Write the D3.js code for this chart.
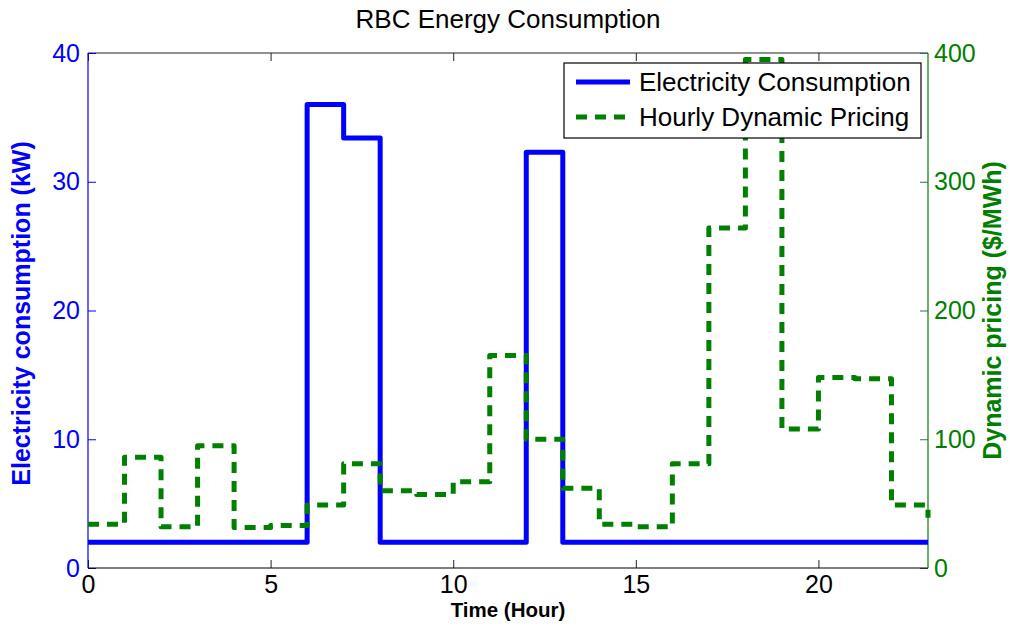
<!DOCTYPE html>
<html>
<head>
<meta charset="utf-8">
<script src="https://cdn.jsdelivr.net/npm/d3@7"></script>
<style>
    body { margin: 0; background: #fff; }
    svg text { font-family: "Liberation Sans", Arial, Helvetica, sans-serif; }
</style>
</head>
<body>
<div id="chart"></div>
<script>
// hourly data, 0..23
const hours = d3.range(0, 24);
const consumption = [2, 2, 2, 2, 2, 2, 36, 33.4, 2, 2, 2, 2, 32.3, 2, 2, 2, 2, 2, 2, 2, 2, 2, 2, 2];
const pricing = [34, 86, 32, 95, 31.5, 33, 49, 81, 60, 57, 67, 165, 100, 62, 34, 32, 81, 264, 395, 108, 148, 147, 49, 39];
const xTicks = [0, 5, 10, 15, 20];
const leftTicks = [0, 10, 20, 30, 40];
const rightTicks = [0, 100, 200, 300, 400];

const width = 1010, height = 627;
const margin = { top: 53, right: 82, bottom: 59, left: 88 };
const innerW = width - margin.left - margin.right;
const innerH = height - margin.top - margin.bottom;

const svg = d3.select("#chart").append("svg")
    .attr("width", width)
    .attr("height", height);

const x = d3.scaleLinear().domain([0, 23]).range([margin.left, margin.left + innerW]);
const yL = d3.scaleLinear().domain([0, 40]).range([margin.top + innerH, margin.top]);
const yR = d3.scaleLinear().domain([0, 400]).range([margin.top + innerH, margin.top]);

const blue = "#0000ff", green = "#008000";

// title
svg.append("text")
    .attr("x", (margin.left + margin.left + innerW) / 2)
    .attr("y", 28)
    .attr("text-anchor", "middle")
    .attr("font-size", 26)
    .text("RBC Energy Consumption");

// top border
svg.append("line")
    .attr("x1", x(0)).attr("x2", x(23))
    .attr("y1", margin.top).attr("y2", margin.top)
    .attr("stroke", "#222").attr("stroke-width", 1);

// axes
function styleAxis(g, color) {
    g.select(".domain").remove();
    g.selectAll(".tick line").attr("stroke", color);
    g.selectAll(".tick text").attr("fill", color).attr("font-size", 25)
        .attr("font-family", '"Liberation Sans", Arial, sans-serif');
}

const xAxis = svg.append("g")
    .attr("transform", `translate(0,${margin.top + innerH})`)
    .call(d3.axisBottom(x).tickValues(xTicks).tickSize(-8).tickPadding(7));
styleAxis(xAxis, "#000");
xAxis.selectAll(".tick line").attr("stroke", "#222");

const xAxisTop = svg.append("g")
    .attr("transform", `translate(0,${margin.top})`)
    .call(d3.axisTop(x).tickValues(xTicks).tickSize(-8).tickFormat(""));
xAxisTop.select(".domain").remove();
xAxisTop.selectAll(".tick line").attr("stroke", "#222");

const leftAxis = svg.append("g")
    .attr("transform", `translate(${margin.left},0)`)
    .call(d3.axisLeft(yL).tickValues(leftTicks).tickSize(-8).tickPadding(8));
styleAxis(leftAxis, blue);

const rightAxis = svg.append("g")
    .attr("transform", `translate(${margin.left + innerW},0)`)
    .call(d3.axisRight(yR).tickValues(rightTicks).tickSize(-8).tickPadding(6));
styleAxis(rightAxis, green);
rightAxis.selectAll(".tick line").attr("stroke", "#2a6f6f");

// axis lines
svg.append("line")
    .attr("x1", x(0)).attr("x2", x(23))
    .attr("y1", margin.top + innerH).attr("y2", margin.top + innerH)
    .attr("stroke", "#000").attr("stroke-width", 1.2);
svg.append("line")
    .attr("x1", margin.left).attr("x2", margin.left)
    .attr("y1", margin.top).attr("y2", margin.top + innerH)
    .attr("stroke", blue).attr("stroke-width", 1.2);
svg.append("line")
    .attr("x1", margin.left + innerW).attr("x2", margin.left + innerW)
    .attr("y1", margin.top).attr("y2", margin.top + innerH)
    .attr("stroke", green).attr("stroke-width", 1.2);

// series (stairs)
const consLine = d3.line()
    .x((d, i) => x(hours[i]))
    .y(d => yL(d))
    .curve(d3.curveStepAfter);

const priceLine = d3.line()
    .x((d, i) => x(hours[i]))
    .y(d => yR(d))
    .curve(d3.curveStepAfter);

svg.append("path")
    .datum(consumption)
    .attr("fill", "none")
    .attr("stroke", blue)
    .attr("stroke-width", 5)
    .attr("stroke-linejoin", "round")
    .attr("d", consLine);

svg.append("path")
    .datum(pricing)
    .attr("fill", "none")
    .attr("stroke", green)
    .attr("stroke-width", 5)
    .attr("stroke-dasharray", "11,8")
    .attr("stroke-linejoin", "round")
    .attr("d", priceLine);

// axis labels
svg.append("text")
    .attr("x", (x(0) + x(23)) / 2)
    .attr("y", 617)
    .attr("text-anchor", "middle")
    .attr("font-size", 20.5)
    .attr("font-weight", "bold")
    .text("Time (Hour)");

svg.append("text")
    .attr("transform", `translate(30,${(margin.top + margin.top + innerH) / 2 + 3}) rotate(-90)`)
    .attr("text-anchor", "middle")
    .attr("font-size", 25)
    .attr("font-weight", "bold")
    .attr("fill", blue)
    .text("Electricity consumption (kW)");

svg.append("text")
    .attr("transform", `translate(1001,${(margin.top + margin.top + innerH) / 2}) rotate(-90)`)
    .attr("text-anchor", "middle")
    .attr("font-size", 25)
    .attr("font-weight", "bold")
    .attr("fill", green)
    .text("Dynamic pricing ($/MWh)");

// legend
const legendItems = [
    { label: "Electricity Consumption", color: blue, dash: null },
    { label: "Hourly Dynamic Pricing", color: green, dash: "11,8" }
];
const legend = svg.append("g").attr("transform", "translate(564,63)");
legend.append("rect")
    .attr("width", 357).attr("height", 75)
    .attr("fill", "#fff").attr("stroke", "#000").attr("stroke-width", 1.2);
const items = legend.selectAll(".item")
    .data(legendItems)
    .enter().append("g")
    .attr("transform", (d, i) => `translate(0,${19 + i * 35})`);
items.append("line")
    .attr("x1", 12).attr("x2", 66)
    .attr("stroke", d => d.color)
    .attr("stroke-width", 5)
    .attr("stroke-dasharray", d => d.dash);
items.append("text")
    .attr("x", 75)
    .attr("dy", "0.36em")
    .attr("font-size", 26)
    .text(d => d.label);
</script>
</body>
</html>
